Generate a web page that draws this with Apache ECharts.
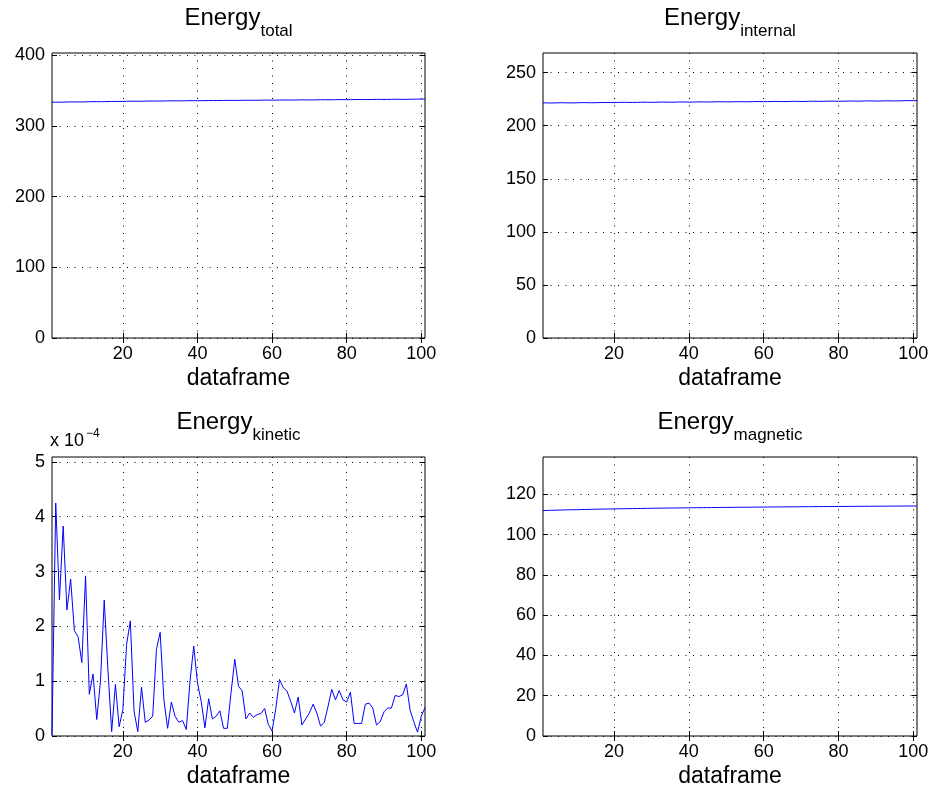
<!DOCTYPE html>
<html>
<head>
<meta charset="utf-8">
<script src="https://cdn.jsdelivr.net/npm/echarts@6/dist/echarts.min.js"></script>
<style>
  html, body { margin: 0; background: #fff; }
  #chart { width: 932px; height: 789px; }
</style>
</head>
<body>
<div id="chart"></div>
<script>
// energy per dataframe (frames 1..101)
var energyTotal = [
  333.45, 333.44, 333.42, 333.53, 333.71, 333.84, 333.83, 333.78, 333.79, 333.92,
  334.10, 334.20, 334.18, 334.14, 334.21, 334.38, 334.51, 334.53, 334.48, 334.54,
  334.69, 334.82, 334.83, 334.78, 334.79, 334.92, 335.07, 335.13, 335.09, 335.06,
  335.14, 335.29, 335.37, 335.36, 335.30, 335.35, 335.49, 335.59, 335.57, 335.52,
  335.56, 335.70, 335.80, 335.78, 335.72, 335.76, 335.90, 336.00, 335.98, 335.92,
  335.96, 336.10, 336.19, 336.17, 336.11, 336.15, 336.28, 336.40, 336.38, 336.29,
  336.33, 336.47, 336.58, 336.56, 336.47, 336.51, 336.64, 336.76, 336.73, 336.65,
  336.68, 336.82, 336.93, 336.90, 336.82, 336.85, 336.98, 337.10, 337.07, 336.98,
  337.02, 337.15, 337.26, 337.23, 337.15, 337.18, 337.31, 337.42, 337.39, 337.31,
  337.34, 337.47, 337.58, 337.55, 337.46, 337.49, 337.63, 337.74, 337.77, 337.80,
  337.85
];
var energyInternal = [
  221.55, 221.48, 221.40, 221.45, 221.58, 221.66, 221.60, 221.50, 221.47, 221.56,
  221.70, 221.76, 221.70, 221.62, 221.65, 221.78, 221.88, 221.86, 221.78, 221.80,
  221.92, 222.02, 222.00, 221.92, 221.90, 222.00, 222.12, 222.15, 222.08, 222.02,
  222.08, 222.20, 222.26, 222.22, 222.14, 222.16, 222.28, 222.36, 222.32, 222.24,
  222.26, 222.38, 222.46, 222.42, 222.34, 222.36, 222.48, 222.56, 222.52, 222.44,
  222.46, 222.58, 222.66, 222.62, 222.54, 222.56, 222.68, 222.78, 222.74, 222.64,
  222.66, 222.78, 222.88, 222.84, 222.74, 222.76, 222.88, 222.98, 222.94, 222.84,
  222.86, 222.98, 223.08, 223.04, 222.94, 222.96, 223.08, 223.18, 223.14, 223.04,
  223.06, 223.18, 223.28, 223.24, 223.14, 223.16, 223.28, 223.38, 223.34, 223.24,
  223.26, 223.38, 223.48, 223.44, 223.34, 223.36, 223.48, 223.58, 223.60, 223.62,
  223.66
];
// kinetic energy in units of 1e-4
var energyKinetic = [
  0.02, 4.25, 2.48, 3.83, 2.30, 2.86, 1.92, 1.81, 1.34, 2.92,
  0.76, 1.13, 0.30, 1.00, 2.48, 1.20, 0.08, 0.94, 0.17, 0.48,
  1.67, 2.10, 0.45, 0.08, 0.89, 0.25, 0.29, 0.36, 1.58, 1.89,
  0.66, 0.14, 0.62, 0.36, 0.25, 0.28, 0.12, 1.00, 1.64, 0.97,
  0.63, 0.15, 0.68, 0.31, 0.36, 0.46, 0.14, 0.14, 0.79, 1.40,
  0.91, 0.82, 0.31, 0.42, 0.34, 0.39, 0.41, 0.50, 0.21, 0.09,
  0.50, 1.03, 0.88, 0.82, 0.63, 0.42, 0.71, 0.20, 0.31, 0.42,
  0.58, 0.42, 0.18, 0.25, 0.54, 0.85, 0.66, 0.83, 0.66, 0.62,
  0.80, 0.23, 0.23, 0.23, 0.58, 0.60, 0.51, 0.20, 0.26, 0.44,
  0.51, 0.51, 0.74, 0.72, 0.75, 0.95, 0.47, 0.26, 0.07, 0.36,
  0.52
];
var energyMagnetic = [
  111.90, 111.96, 112.02, 112.08, 112.13, 112.18, 112.23, 112.28, 112.32, 112.36,
  112.40, 112.44, 112.48, 112.52, 112.56, 112.60, 112.63, 112.67, 112.70, 112.74,
  112.77, 112.80, 112.83, 112.86, 112.89, 112.92, 112.95, 112.98, 113.01, 113.04,
  113.06, 113.09, 113.11, 113.14, 113.16, 113.19, 113.21, 113.23, 113.25, 113.28,
  113.30, 113.32, 113.34, 113.36, 113.38, 113.40, 113.42, 113.44, 113.46, 113.48,
  113.50, 113.52, 113.53, 113.55, 113.57, 113.59, 113.60, 113.62, 113.64, 113.65,
  113.67, 113.69, 113.70, 113.72, 113.73, 113.75, 113.76, 113.78, 113.79, 113.81,
  113.82, 113.84, 113.85, 113.86, 113.88, 113.89, 113.90, 113.92, 113.93, 113.94,
  113.96, 113.97, 113.98, 113.99, 114.01, 114.02, 114.03, 114.04, 114.05, 114.07,
  114.08, 114.09, 114.10, 114.11, 114.12, 114.13, 114.15, 114.16, 114.17, 114.18,
  114.19
];

var xTicks = [20, 40, 60, 80, 100];
var yTicksTotal = [0, 100, 200, 300, 400];
var yTicksInternal = [0, 50, 100, 150, 200, 250];
var yTicksKinetic = [0, 1, 2, 3, 4, 5];
var yTicksMagnetic = [0, 20, 40, 60, 80, 100, 120];

var FONT = '"Liberation Sans", Arial, Helvetica, sans-serif';

var panels = [
  { sub: 'total',    data: energyTotal,    yMax: 403,  yTicks: yTicksTotal,    box: [52, 53, 373, 285] },
  { sub: 'internal', data: energyInternal, yMax: 268.5, yTicks: yTicksInternal, box: [543, 53, 374, 285] },
  { sub: 'kinetic',  data: energyKinetic,  yMax: 5.09, yTicks: yTicksKinetic,  box: [52, 457, 373, 279] },
  { sub: 'magnetic', data: energyMagnetic, yMax: 138.5, yTicks: yTicksMagnetic, box: [543, 457, 374, 279] }
];

var dotted = { color: '#000', width: 1, type: [1, 6.5] };

var grids = [], xAxes = [], yAxes = [], series = [], graphics = [];

panels.forEach(function (p, i) {
  var b = p.box;
  grids.push({ left: b[0], top: b[1], width: b[2], height: b[3], show: true,
    borderColor: '#000', borderWidth: 1, backgroundColor: '#fff' });

  // bottom x axis with labels, top one only for the inward ticks
  xAxes.push({
    type: 'value', gridIndex: i, min: 1, max: 101, position: 'bottom',
    axisLine: { show: false },
    axisTick: { inside: true, length: 5, customValues: xTicks, lineStyle: { color: '#000' } },
    axisLabel: { customValues: xTicks, color: '#000', fontSize: 18, fontFamily: FONT, margin: 7 },
    splitLine: { show: true, lineStyle: dotted },
    name: 'dataframe', nameLocation: 'middle', nameGap: 29,
    nameTextStyle: { color: '#000', fontSize: 23, fontFamily: FONT }
  });
  xAxes.push({
    type: 'value', gridIndex: i, min: 1, max: 101, position: 'top',
    axisLine: { show: false },
    axisTick: { inside: true, length: 5, customValues: xTicks, lineStyle: { color: '#000' } },
    axisLabel: { show: false },
    splitLine: { show: false }
  });

  yAxes.push({
    type: 'value', gridIndex: i, min: 0, max: p.yMax, position: 'left',
    axisLine: { show: false },
    axisTick: { inside: true, length: 5, customValues: p.yTicks, lineStyle: { color: '#000' } },
    axisLabel: { customValues: p.yTicks, color: '#000', fontSize: 18, fontFamily: FONT, margin: 7 },
    splitLine: { show: true, lineStyle: dotted }
  });
  yAxes.push({
    type: 'value', gridIndex: i, min: 0, max: p.yMax, position: 'right',
    axisLine: { show: false },
    axisTick: { inside: true, length: 5, customValues: p.yTicks, lineStyle: { color: '#000' } },
    axisLabel: { show: false },
    splitLine: { show: false }
  });

  series.push({
    type: 'line', xAxisIndex: i * 2, yAxisIndex: i * 2,
    data: p.data.map(function (v, k) { return [k + 1, v]; }),
    symbol: 'none', animation: false,
    lineStyle: { color: '#0000ff', width: 1 }
  });

  // title: Energy with subscript
  graphics.push({
    type: 'text', x: b[0] + b[2] / 2, y: i < 2 ? 18 : 422,
    style: {
      text: '{a|Energy}{b|' + p.sub + '}',
      align: 'center', verticalAlign: 'middle',
      rich: {
        a: { fontSize: 24, fontFamily: FONT, fill: '#000' },
        b: { fontSize: 17, fontFamily: FONT, fill: '#000', padding: [26, 0, 0, 0] }
      }
    }
  });
});

// exponent label of the kinetic panel
graphics.push({ type: 'text', x: 50, y: 441.5,
  style: { text: 'x 10', fontSize: 18, fontFamily: FONT, fill: '#000', verticalAlign: 'middle' } });
graphics.push({ type: 'text', x: 86, y: 434,
  style: { text: '\u22124', fontSize: 12, fontFamily: FONT, fill: '#000', verticalAlign: 'middle' } });

var chart = echarts.init(document.getElementById('chart'));
chart.setOption({
  backgroundColor: '#fff',
  animation: false,
  grid: grids,
  xAxis: xAxes,
  yAxis: yAxes,
  series: series,
  graphic: graphics
});
</script>
</body>
</html>
